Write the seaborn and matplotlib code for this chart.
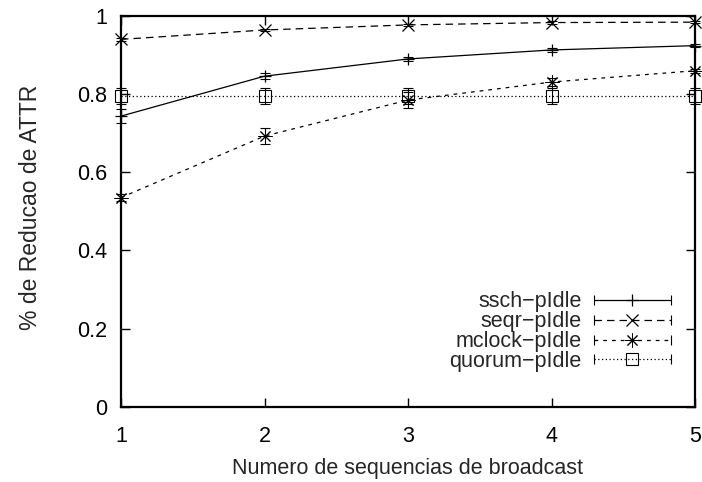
import numpy as np
import pandas as pd
import seaborn as sns
import matplotlib
matplotlib.use("Agg")
import matplotlib.pyplot as plt
from matplotlib.lines import Line2D
from matplotlib.legend_handler import HandlerBase

# Number of broadcast sequences
x_vals = [1, 2, 3, 4, 5]

# Mean ATTR reduction per protocol
ssch_pidle = [0.743, 0.845, 0.889, 0.912, 0.923]
seqr_pidle = [0.939, 0.963, 0.976, 0.982, 0.983]
mclock_pidle = [0.535, 0.692, 0.784, 0.830, 0.859]
quorum_pidle = [0.795, 0.795, 0.795, 0.795, 0.795]

# Half-width of the confidence intervals
ssch_err = [0.017, 0.008, 0.006, 0.004, 0.003]
seqr_err = [0.003, 0.003, 0.003, 0.003, 0.003]
mclock_err = [0.010, 0.020, 0.020, 0.010, 0.005]
quorum_err = [0.020, 0.020, 0.020, 0.020, 0.020]

series_names = ["ssch\u2212pIdle", "seqr\u2212pIdle", "mclock\u2212pIdle", "quorum\u2212pIdle"]
series_vals = [ssch_pidle, seqr_pidle, mclock_pidle, quorum_pidle]
series_errs = [ssch_err, seqr_err, mclock_err, quorum_err]

x_ticks = [1, 2, 3, 4, 5]
y_ticks = [0, 0.2, 0.4, 0.6, 0.8, 1]
y_tick_labels = ["0", "0.2", "0.4", "0.6", "0.8", "1"]

FS = 15.5

sns.set_style("ticks")
plt.rcParams["font.family"] = ["Liberation Sans", "DejaVu Sans"]

styles = [
    dict(ls="-", marker="+", ms=9, mfc="black", mew=0.9),
    dict(ls=(0, (6, 4)), marker="x", ms=8, mfc="black", mew=0.9),
    dict(ls=(0, (3, 4)), marker=(8, 2, 0), ms=10, mfc="black", mew=0.7),
    dict(ls=(0, (1, 2)), marker="s", ms=8, mfc="none", mew=0.8),
]

fig = plt.figure(figsize=(7.02, 4.82), dpi=100)
ax = fig.add_axes([121 / 702, 1 - 407 / 482, (695 - 121) / 702, (407 - 15.5) / 482])

frames = []
for name, vals in zip(series_names, series_vals):
    frames.append(pd.DataFrame({"x": x_vals, "y": vals, "series": name}))
df = pd.concat(frames, ignore_index=True)

for name, vals, errs, st in zip(series_names, series_vals, series_errs, styles):
    sub = df[df["series"] == name]
    sns.lineplot(data=sub, x="x", y="y", ax=ax, color="black", lw=0.9,
                 linestyle=st["ls"], marker=st["marker"], markersize=st["ms"],
                 markerfacecolor=st["mfc"], markeredgecolor="black",
                 markeredgewidth=st["mew"], legend=False, clip_on=False,
                 zorder=3)
    ax.errorbar(x_vals, vals, yerr=errs, fmt="none", ecolor="black",
                elinewidth=0.8, capsize=3.5, capthick=0.8, zorder=3,
                clip_on=False)


class GnuplotKey(HandlerBase):
    """Key sample: line with end caps and the point symbol in the middle."""

    def create_artists(self, legend, orig_handle, xdescent, ydescent,
                       width, height, fontsize, trans):
        y = height / 2 - ydescent
        x0, x1 = -xdescent, width - xdescent
        line = Line2D([x0, x1], [y, y])
        line.update_from(orig_handle)
        line.set_marker("None")
        caps = Line2D([x0, x1], [y, y], ls="none", marker="|", ms=7,
                      mew=0.8, color="black")
        mid = Line2D([(x0 + x1) / 2], [y], ls="none",
                     marker=orig_handle.get_marker(),
                     ms=orig_handle.get_markersize(),
                     mfc=orig_handle.get_markerfacecolor(),
                     mec="black", mew=orig_handle.get_markeredgewidth())
        arts = [line, caps, mid]
        for a in arts:
            a.set_transform(trans)
        return arts


handles = [Line2D([], [], color="black", lw=0.9, linestyle=st["ls"],
                  marker=st["marker"], markersize=st["ms"],
                  markerfacecolor=st["mfc"], markeredgewidth=st["mew"])
           for st in styles]
ax.legend(handles, series_names, loc="lower right",
          bbox_to_anchor=((667 - 121 + 4) / 574, (407 - 372) / 391.5),
          frameon=False, markerfirst=False, fontsize=FS,
          handlelength=3.6, handletextpad=0.56, labelspacing=-0.05,
          borderpad=0, borderaxespad=0,
          handler_map={Line2D: GnuplotKey()})

ax.set_xlim(1, 5)
ax.set_ylim(0, 1)
ax.set_xticks(x_ticks)
ax.set_xticklabels([str(v) for v in x_ticks])
ax.set_yticks(y_ticks)
ax.set_yticklabels(y_tick_labels)
ax.tick_params(direction="in", length=6.5, width=1.0, top=True, right=True,
               labelsize=FS, colors="black")
ax.tick_params(axis="x", pad=13.5)
ax.tick_params(axis="y", pad=10)
for sp in ax.spines.values():
    sp.set_linewidth(1.6)
    sp.set_color("black")
    sp.set_visible(True)

ax.set_xlabel("Numero de sequencias de broadcast", fontsize=FS, labelpad=8)
ax.set_ylabel("% de Reducao de ATTR", fontsize=16.5)
ax.yaxis.set_label_coords(-0.138, 0.51)

fig.savefig("out.png", dpi=100)
